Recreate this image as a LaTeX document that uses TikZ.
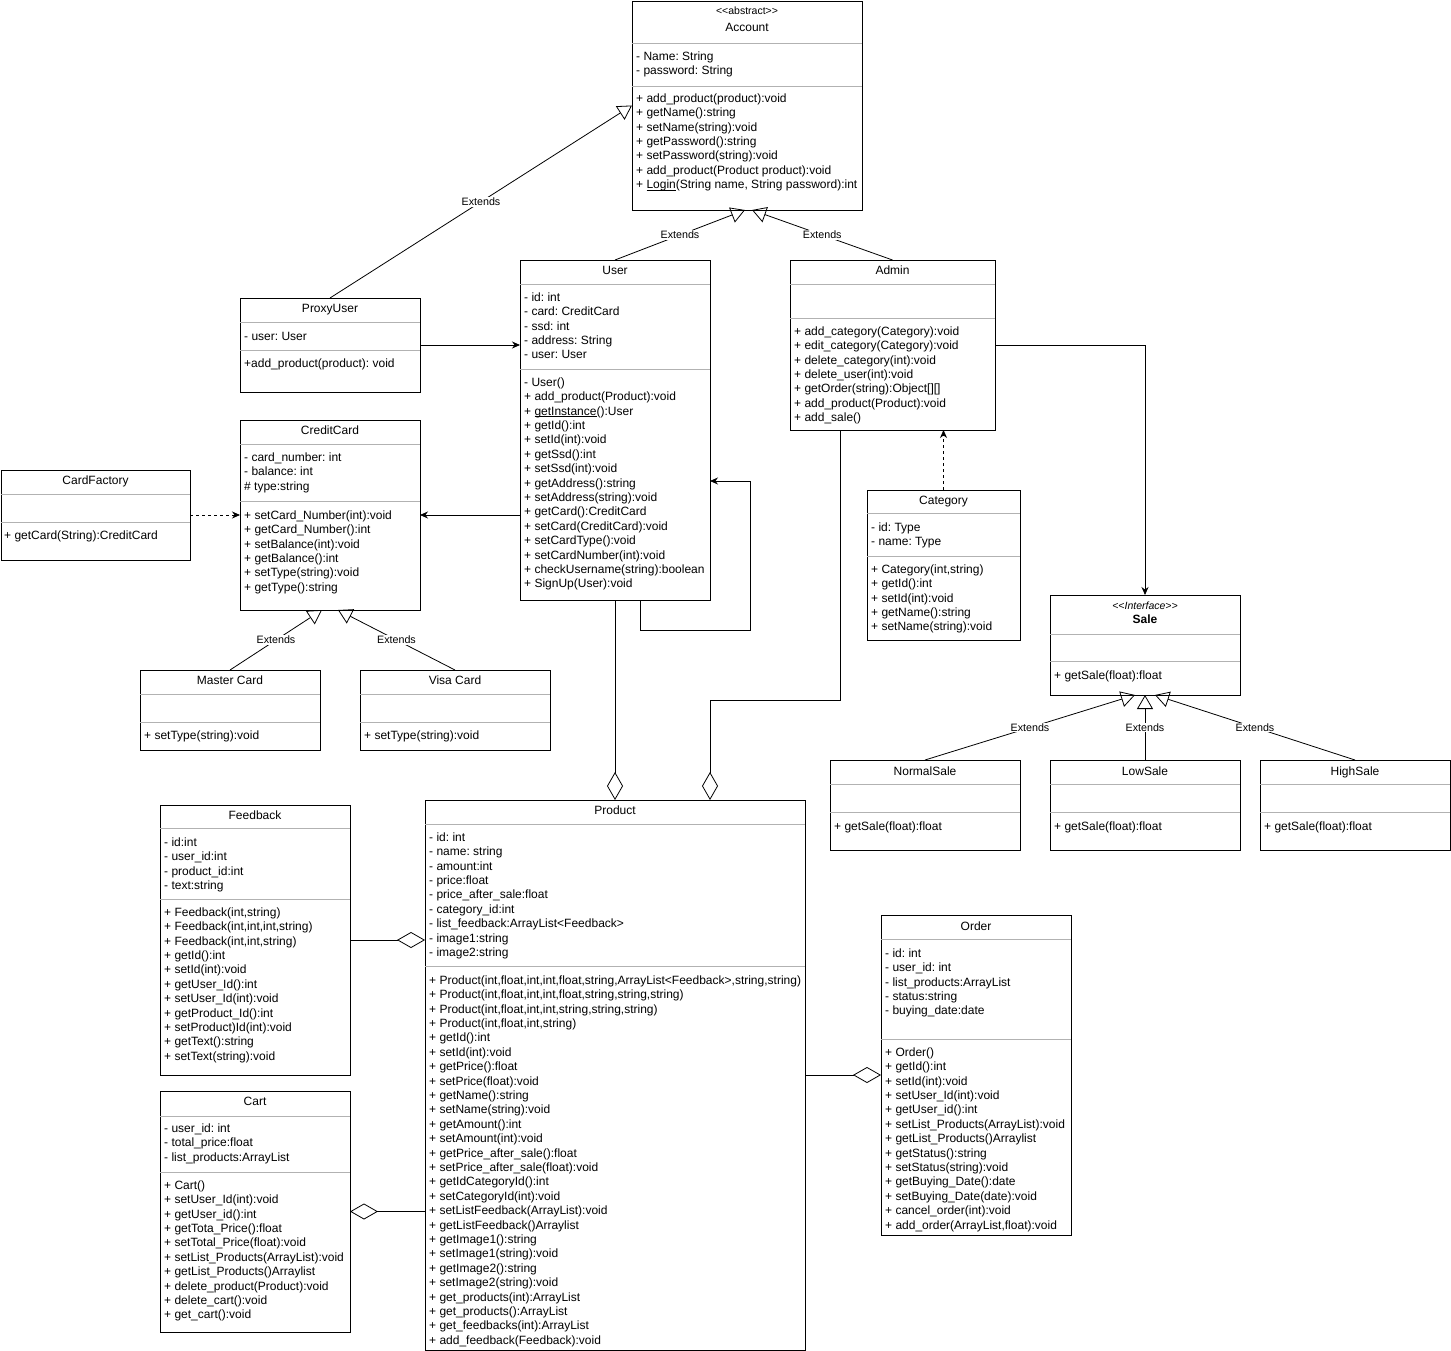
\documentclass[tikz,border=0pt]{standalone}
\usepackage{fontspec}
\setmainfont{Liberation Sans}
\usetikzlibrary{arrows.meta}
\newcommand{\umlfont}{\fontsize{12}{14.4}\selectfont}
\newcommand{\umlul}[1]{\setbox0\hbox{#1}\rlap{\rule[-1.6pt]{\wd0}{0.6pt}}#1}
\frenchspacing

\begin{document}
\begin{tikzpicture}[x=1pt, y=-1pt,
	cls/.style={draw, line width=0.8pt, rectangle, inner sep=0pt, outer sep=0pt},
	title/.style={anchor=base, inner sep=0pt, font=\umlfont},
	members/.style={anchor=north west, align=left, inner sep=0pt, font=\umlfont},
	sepline/.style={draw=gray!60, line width=0.7pt},
	ext/.style={-{Triangle[open, length=14pt, width=16pt]}, line width=0.8pt},
	extlbl/.style={fill=white, inner sep=1pt, font=\fontsize{10.7}{12}\selectfont},
	dep/.style={-{Stealth[length=8pt, width=7pt]}, line width=0.8pt},
	agg/.style={-{Diamond[open, length=28pt, width=16pt]}, line width=0.8pt}]
	\useasboundingbox (0,0) rectangle (1451,1351);

	% Classes:
	\node[cls, minimum width=230pt, minimum height=209pt] (account) at (747,105.5){};
	\node[title, font=\fontsize{10.5}{12}\selectfont] (accountstereo) at (747,14.5){\textless\kern0pt\textless abstract\textgreater\kern0pt\textgreater};
	\node[title] (accounttitle) at (747,32){Account};
	\draw[sepline] (632,43) -- (862,43);
	\draw[sepline] (632,86) -- (862,86);
	\node[members] (accountattr) at (636,50){\strut- Name: String\\- password: String};
	\node[members] (accountmeth) at (636,92){\strut+ add\_product(product):void\\+ getName():string\\+ setName(string):void\\+ getPassword():string\\+ setPassword(string):void\\+ add\_product(Product product):void\\+ \umlul{Login}(String name, String password):int};

	\node[cls, minimum width=180pt, minimum height=94pt] (proxy) at (330,345){};
	\node[title] (proxytitle) at (330,312){ProxyUser};
	\draw[sepline] (240,322) -- (420,322);
	\draw[sepline] (240,350) -- (420,350);
	\node[members] (proxyattr) at (244,330){\strut- user: User};
	\node[members] (proxymeth) at (244,357){\strut+add\_product(product): void};

	\node[cls, minimum width=190pt, minimum height=340pt] (user) at (615,430){};
	\node[title] (usertitle) at (615,274){User};
	\draw[sepline] (520,284) -- (710,284);
	\draw[sepline] (520,369) -- (710,369);
	\node[members] (userattr) at (524,291){\strut- id: int\\- card: CreditCard\\- ssd: int\\- address: String\\- user: User};
	\node[members] (usermeth) at (524,376){\strut- User()\\+ add\_product(Product):void\\+ \umlul{getInstance}():User\\+ getId():int\\+ setId(int):void\\+ getSsd():int\\+ setSsd(int):void\\+ getAddress():string\\+ setAddress(string):void\\+ getCard():CreditCard\\+ setCard(CreditCard):void\\+ setCardType():void\\+ setCardNumber(int):void\\+ checkUsername(string):boolean\\+ SignUp(User):void};

	\node[cls, minimum width=205pt, minimum height=170pt] (admin) at (892.5,345){};
	\node[title] (admintitle) at (892.5,274){Admin};
	\draw[sepline] (790,284) -- (995,284);
	\draw[sepline] (790,318) -- (995,318);
	\node[members] (adminmeth) at (794,325){\strut+ add\_category(Category):void\\+ edit\_category(Category):void\\+ delete\_category(int):void\\+ delete\_user(int):void\\+ getOrder(string):Object[][]\\+ add\_product(Product):void\\+ add\_sale()};

	\node[cls, minimum width=180pt, minimum height=190pt] (credit) at (330,515){};
	\node[title] (credittitle) at (330,434){CreditCard};
	\draw[sepline] (240,444) -- (420,444);
	\draw[sepline] (240,501) -- (420,501);
	\node[members] (creditattr) at (244,451){\strut- card\_number: int\\- balance: int\\\# type:string};
	\node[members] (creditmeth) at (244,509){\strut+ setCard\_Number(int):void\\+ getCard\_Number():int\\+ setBalance(int):void\\+ getBalance():int\\+ setType(string):void\\+ getType():string};

	\node[cls, minimum width=189pt, minimum height=90pt] (factory) at (95.5,515){};
	\node[title] (factorytitle) at (95.5,484){CardFactory};
	\draw[sepline] (1,494) -- (190,494);
	\draw[sepline] (1,522) -- (190,522);
	\node[members] (factorymeth) at (4,529){\strut+ getCard(String):CreditCard};

	\node[cls, minimum width=180pt, minimum height=80pt] (master) at (230,710){};
	\node[title] (mastertitle) at (230,684){Master Card};
	\draw[sepline] (140,694) -- (320,694);
	\draw[sepline] (140,722) -- (320,722);
	\node[members] (mastermeth) at (144,729){\strut+ setType(string):void};

	\node[cls, minimum width=190pt, minimum height=80pt] (visa) at (455,710){};
	\node[title] (visatitle) at (455,684){Visa Card};
	\draw[sepline] (360,694) -- (550,694);
	\draw[sepline] (360,722) -- (550,722);
	\node[members] (visameth) at (364,729){\strut+ setType(string):void};

	\node[cls, minimum width=153pt, minimum height=150pt] (category) at (943.5,565){};
	\node[title] (categorytitle) at (943.5,504){Category};
	\draw[sepline] (867,513) -- (1020,513);
	\draw[sepline] (867,556) -- (1020,556);
	\node[members] (categoryattr) at (871,521){\strut- id: Type\\- name: Type};
	\node[members] (categorymeth) at (871,563){\strut+ Category(int,string)\\+ getId():int\\+ setId(int):void\\+ getName():string\\+ setName(string):void};

	\node[cls, minimum width=190pt, minimum height=100pt] (sale) at (1145,645){};
	\node[title, font=\fontsize{10.5}{12}\selectfont\itshape] (salestereo) at (1145,609){\textless\kern0pt\textless Interface\textgreater\kern0pt\textgreater};
	\node[title, font=\umlfont\bfseries] (saletitle) at (1145,623){Sale};
	\draw[sepline] (1050,634) -- (1240,634);
	\draw[sepline] (1050,661) -- (1240,661);
	\node[members] (salemeth) at (1054,669){\strut+ getSale(float):float};

	\node[cls, minimum width=190pt, minimum height=90pt] (normal) at (925,805){};
	\node[title] (normaltitle) at (925,775){NormalSale};
	\draw[sepline] (830,784) -- (1020,784);
	\draw[sepline] (830,812) -- (1020,812);
	\node[members] (normalmeth) at (834,820){\strut+ getSale(float):float};

	\node[cls, minimum width=190pt, minimum height=90pt] (low) at (1145,805){};
	\node[title] (lowtitle) at (1145,775){LowSale};
	\draw[sepline] (1050,784) -- (1240,784);
	\draw[sepline] (1050,812) -- (1240,812);
	\node[members] (lowmeth) at (1054,820){\strut+ getSale(float):float};

	\node[cls, minimum width=190pt, minimum height=90pt] (high) at (1355,805){};
	\node[title] (hightitle) at (1355,775){HighSale};
	\draw[sepline] (1260,784) -- (1450,784);
	\draw[sepline] (1260,812) -- (1450,812);
	\node[members] (highmeth) at (1264,820){\strut+ getSale(float):float};

	\node[cls, minimum width=380pt, minimum height=550pt] (product) at (615,1075){};
	\node[title] (producttitle) at (615,814){Product};
	\draw[sepline] (425,824) -- (805,824);
	\draw[sepline] (425,966) -- (805,966);
	\node[members] (productattr) at (429,831){\strut- id: int\\- name: string\\- amount:int\\- price:float\\- price\_after\_sale:float\\- category\_id:int\\- list\_feedback:ArrayList\textless Feedback\textgreater\\- image1:string\\- image2:string};
	\node[members] (productmeth) at (429,974){\strut+ Product(int,float,int,int,float,string,ArrayList\textless Feedback\textgreater,string,string)\\+ Product(int,float,int,int,float,string,string,string)\\+ Product(int,float,int,int,string,string,string)\\+ Product(int,float,int,string)\\+ getId():int\\+ setId(int):void\\+ getPrice():float\\+ setPrice(float):void\\+ getName():string\\+ setName(string):void\\+ getAmount():int\\+ setAmount(int):void\\+ getPrice\_after\_sale():float\\+ setPrice\_after\_sale(float):void\\+ getIdCategoryId():int\\+ setCategoryId(int):void\\+ setListFeedback(ArrayList):void\\+ getListFeedback()Arraylist\\+ getImage1():string\\+ setImage1(string):void\\+ getImage2():string\\+ setImage2(string):void\\+ get\_products(int):ArrayList\\+ get\_products():ArrayList\\+ get\_feedbacks(int):ArrayList\\+ add\_feedback(Feedback):void};

	\node[cls, minimum width=190pt, minimum height=270pt] (feedback) at (255,940){};
	\node[title] (feedbacktitle) at (255,819){Feedback};
	\draw[sepline] (160,828) -- (350,828);
	\draw[sepline] (160,899) -- (350,899);
	\node[members] (feedbackattr) at (164,836){\strut- id:int\\- user\_id:int\\- product\_id:int\\- text:string};
	\node[members] (feedbackmeth) at (164,906){\strut+ Feedback(int,string)\\+ Feedback(int,int,int,string)\\+ Feedback(int,int,string)\\+ getId():int\\+ setId(int):void\\+ getUser\_Id():int\\+ setUser\_Id(int):void\\+ getProduct\_Id():int\\+ setProduct)Id(int):void\\+ getText():string\\+ setText(string):void};

	\node[cls, minimum width=190pt, minimum height=241pt] (cart) at (255,1211.5){};
	\node[title] (carttitle) at (255,1105){Cart};
	\draw[sepline] (160,1116) -- (350,1116);
	\draw[sepline] (160,1172) -- (350,1172);
	\node[members] (cartattr) at (164,1122){\strut- user\_id: int\\- total\_price:float\\- list\_products:ArrayList};
	\node[members] (cartmeth) at (164,1179){\strut+ Cart()\\+ setUser\_Id(int):void\\+ getUser\_id():int\\+ getTota\_Price():float\\+ setTotal\_Price(float):void\\+ setList\_Products(ArrayList):void\\+ getList\_Products()Arraylist\\+ delete\_product(Product):void\\+ delete\_cart():void\\+ get\_cart():void};

	\node[cls, minimum width=190pt, minimum height=320pt] (order) at (976,1075){};
	\node[title] (ordertitle) at (976,930){Order};
	\draw[sepline] (881,939) -- (1071,939);
	\draw[sepline] (881,1039) -- (1071,1039);
	\node[members] (orderattr) at (885,947){\strut- id: int\\- user\_id: int\\- list\_products:ArrayList\\- status:string\\- buying\_date:date};
	\node[members] (ordermeth) at (885,1046){\strut+ Order()\\+ getId():int\\+ setId(int):void\\+ setUser\_Id(int):void\\+ getUser\_id():int\\+ setList\_Products(ArrayList):void\\+ getList\_Products()Arraylist\\+ getStatus():string\\+ setStatus(string):void\\+ getBuying\_Date():date\\+ setBuying\_Date(date):void\\+ cancel\_order(int):void\\+ add\_order(ArrayList,float):void};

	% Inheritance:
	\draw[ext] (proxy.north) -- node[extlbl, pos=0.5] (extproxy){Extends} (account.west);
	\draw[ext] (user.north) -- node[extlbl, pos=0.5] (extuser){Extends} ([xshift=-2pt]account.south);
	\draw[ext] (admin.north) -- node[extlbl, pos=0.5] (extadmin){Extends} ([xshift=5pt]account.south);
	\draw[ext] (master.north) -- node[extlbl, pos=0.5] (extmaster){Extends} ([xshift=-8pt]credit.south);
	\draw[ext] (visa.north) -- node[extlbl, pos=0.5] (extvisa){Extends} ([xshift=8pt]credit.south);
	\draw[ext] (normal.north) -- node[extlbl, pos=0.5] (extnormal){Extends} ([xshift=-10pt]sale.south);
	\draw[ext] (low.north) -- node[extlbl, pos=0.5] (extlow){Extends} (sale.south);
	\draw[ext] (high.north) -- node[extlbl, pos=0.5] (exthigh){Extends} ([xshift=10pt]sale.south);

	% Associations and dependencies:
	\draw[dep] (proxy.east) -- (proxy.east -| user.west);
	\draw[dep] (user.west |- credit.east) -- (credit.east);
	\draw[dep, dash pattern=on 3pt off 3pt] (factory.east) -- (credit.west);
	\coordinate (loopcorner) at (750,630);
	\draw[dep] ([xshift=25pt]user.south) |- (loopcorner) |- ([yshift=-51pt]user.east);
	\draw[dep, dash pattern=on 3pt off 3pt] (category.north) -- (category.north |- admin.south);
	\draw[dep] (admin.east) -| (sale.north);

	% Aggregations:
	\draw[agg] (user.south) -- (product.north);
	\coordinate (adminbend) at (710,700);
	\draw[agg] ([xshift=-52.5pt]admin.south) |- (adminbend) -- (adminbend |- product.north);
	\draw[agg] (feedback.east) -- (feedback.east -| product.west);
	\draw[agg] (product.west |- cart.east) -- (cart.east);
	\draw[agg] (product.east) -- (order.west);
\end{tikzpicture}
\end{document}
